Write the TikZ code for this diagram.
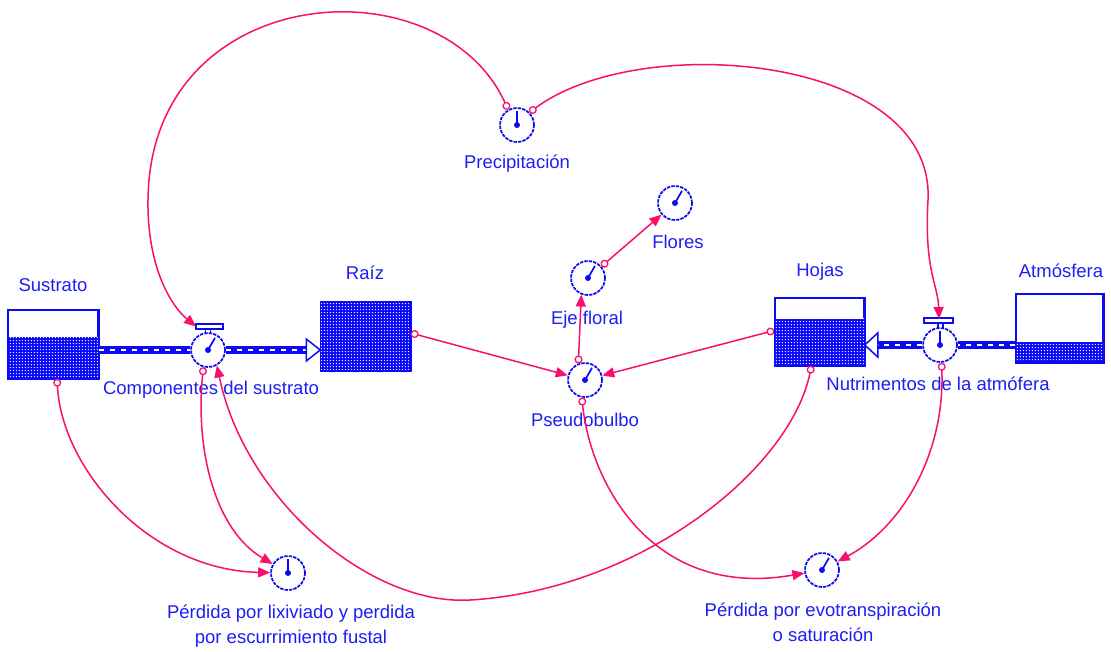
\documentclass[tikz,border=0pt]{standalone}
\usepackage{fontspec}
\setmainfont{Liberation Sans}
\usetikzlibrary{arrows.meta,patterns,calc}
\definecolor{sdblue}{RGB}{10,10,245}
\definecolor{sdtext}{RGB}{30,30,245}
\definecolor{sdlink}{RGB}{250,15,110}
% dotted texture for the stock levels
\pgfdeclarepatternformonly{stockdots}{\pgfpointorigin}{\pgfpoint{3.3pt}{3.3pt}}{\pgfpoint{3.3pt}{3.3pt}}%
  {\pgfpathcircle{\pgfpoint{1.65pt}{1.65pt}}{0.75pt}\pgfusepath{fill}}
\tikzset{
  conv/.style={circle, draw=sdblue, line width=1.7pt, dash pattern=on 3.4pt off 1.1pt,
    minimum size=34pt, inner sep=0pt, fill=white,
    path picture={\fill[sdblue] (path picture bounding box.center) circle (3pt);
      \draw[sdblue, line width=1.7pt, solid] (path picture bounding box.center) -- ++(#1:14pt);}},
  conv/.default=60,
  stock/.style={draw=sdblue, line width=1.5pt, fill=white, inner sep=0pt},
  stockline/.style={draw=sdblue, line width=1.5pt},
  level/.style={fill=sdblue, postaction={pattern=stockdots, pattern color=white}},
  pipe/.style={draw=sdblue, line width=7.5pt,
    postaction={draw=white, line width=1.8pt, dash pattern=on 5pt off 6pt}},
  inlet/.style={draw=sdblue, line width=1.5pt, fill=white},
  handle/.style={draw=sdblue, line width=1.3pt, fill=white},
  link/.style={draw=sdlink, line width=1.5pt,
    arrows={Circle[open, length=8pt, width=8pt, line width=1.3pt]-Triangle[length=12pt, width=10pt]}},
  lbl/.style={text=sdtext, inner sep=0pt, align=center, font=\fontsize{18.5}{25}\selectfont}
}
\begin{document}
\begin{tikzpicture}[x=1pt, y=-1pt]
\path[fill=white] (0,0) rectangle (1111,651);
\useasboundingbox (0,0) rectangle (1111,651);

% stocks
\node[stock, minimum width=90pt, minimum height=68pt] (sust) at (53,344) {};
\node[stock, minimum width=89pt, minimum height=68pt] (raiz) at (365.5,336) {};
\node[stock, minimum width=89pt, minimum height=67pt] (hojas) at (819.5,331.5) {};
\node[stock, minimum width=87pt, minimum height=68pt] (atm) at (1059.5,328) {};
\path[level] (sust.south west) rectangle ([yshift=42pt]sust.south east);
\path[level] (raiz.south west) rectangle (raiz.north east);
\path[level] (hojas.south west) rectangle ([yshift=47pt]hojas.south east);
\path[level] (atm.south west) rectangle ([yshift=21pt]atm.south east);
\draw[stockline] (sust.south west) rectangle (sust.north east);
\draw[stockline] (raiz.south west) rectangle (raiz.north east);
\draw[stockline] (hojas.south west) rectangle (hojas.north east);
\draw[stockline] (atm.south west) rectangle (atm.north east);

% converters and valves
\node[conv=90] (prec) at (517,125) {};
\node[conv] (flores) at (675,203) {};
\node[conv] (eje) at (588,278) {};
\node[conv] (pseudo) at (585,380) {};
\node[conv=90] (perlix) at (288,573) {};
\node[conv] (perevo) at (822,570) {};
\node[conv] (vcomp) at (208,350) {};
\node[conv=90] (vnut) at (940,345) {};

% flow pipes
\draw[pipe] (sust.east |- vcomp) -- (vcomp.west);
\draw[pipe] (vcomp.east) -- ($(raiz.west |- vcomp)+(-14,0)$);
\draw[inlet] (raiz.west |- vcomp) -- ++(-14,-11) -- ++(0,22) -- cycle;
\draw[pipe] (atm.west |- vnut) -- (vnut.east);
\draw[pipe] (vnut.west) -- ($(hojas.east |- vnut)+(13,0)$);
\draw[inlet] (hojas.east |- vnut) -- ++(13,-12) -- ++(0,24) -- cycle;

% valve handles
\draw[handle, shift={(vcomp)}] (-12,-26) rectangle (15,-21);
\draw[sdblue, line width=1.2pt, shift={(vcomp)}] (-2.5,-21) -- (-2.5,-17) (2.5,-21) -- (2.5,-17);
\draw[handle, shift={(vnut)}] (-16,-27) rectangle (13,-22);
\draw[sdblue, line width=1.2pt, shift={(vnut)}] (-2,-22) -- (-2,-17.5) (3,-22) -- (3,-17.5);
\coordinate (hcomp) at ($(vcomp)+(-12,-23.5)$);
\coordinate (hnut) at ($(vnut)+(-1,-26)$);

% labels
\node[lbl] (tsust) at (53,285) {Sustrato};
\node[lbl] (traiz) at (365,273) {Raíz};
\node[lbl] (thojas) at (820,272) {Hojas};
\node[lbl] (tatm) at (1061,271) {Atmósfera};
\node[lbl] (tprec) at (517,164) {Precipitación};
\node[lbl] (tflores) at (678,242) {Flores};
\node[lbl] (teje) at (587,320) {Eje floral};
\node[lbl] (tpseudo) at (585,420) {Pseudobulbo};
\node[lbl] (tvcomp) at (211,390) {Componentes del sustrato};
\node[lbl] (tvnut) at (938,384) {Nutrimentos de la atmófera};
\node[lbl] (tperlix) at (291,626) {Pérdida por lixiviado y perdida\\por escurrimiento fustal};
\node[lbl] (tperevo) at (823,622) {Pérdida por evotranspiración\\o saturación};

% information links
\draw[link] (prec.120) .. controls (440,-40) and (150,-20) .. (148,200)
  .. controls (147,265) and (170,305) .. (hcomp);
\draw[link] (prec.45) .. controls (640,30) and (935,55) .. (928,200)
  .. controls (924,270) and (938,285) .. (hnut);
\draw[link] ([yshift=3pt]raiz.east) -- (pseudo);
\draw[link] ([yshift=1pt]hojas.west) -- (pseudo);
\draw[link] (pseudo.112) -- (eje.248);
\draw[link] (eje) -- (flores);
\draw[link] ([xshift=4pt]sust.south) .. controls (62,470) and (150,570) .. (perlix);
\draw[link] (vcomp.255) .. controls (195,450) and (215,530) .. (perlix);
\draw[link] ([xshift=-8pt]hojas.south) .. controls (790,470) and (640,590) .. (470,600)
  .. controls (370,606) and (245,500) .. (vcomp.300);
\draw[link] (pseudo.260) .. controls (590,480) and (650,600) .. (perevo);
\draw[link] (vnut.275) .. controls (945,450) and (905,525) .. (perevo);
\end{tikzpicture}
\end{document}
